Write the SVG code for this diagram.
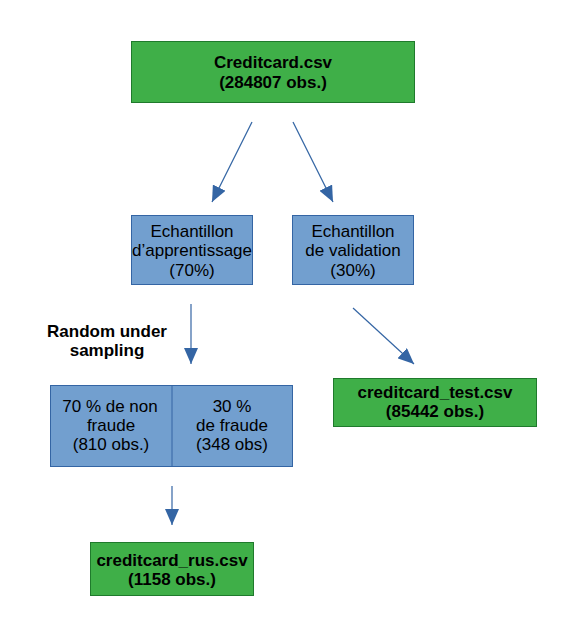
<svg xmlns="http://www.w3.org/2000/svg" width="568" height="623" viewBox="0 0 568 623">
<style>
.g{fill:#3faf48;stroke:#1f7a2c;stroke-width:1}
.b{fill:#729fcf;stroke:#3465a4;stroke-width:1}
.t{font-family:"Liberation Sans",Arial,sans-serif;font-size:17px;fill:#000;text-anchor:middle}
.bd{font-weight:bold}
.c{stroke:#3465a4;stroke-width:1.2;fill:none;marker-end:url(#ah)}
</style>
<defs>
<marker id="ah" markerUnits="userSpaceOnUse" markerWidth="16" markerHeight="14" refX="16" refY="7" orient="auto">
<path d="M0,0 L16,7 L0,14 Z" fill="#3465a4"/>
</marker>
</defs>
<rect width="568" height="623" fill="#fff"/>
<g id="connectors">
<path class="c" d="M252,122 L212,202"/>
<path class="c" d="M293,122 L333,202"/>
<path class="c" d="M191,304 L191,364"/>
<path class="c" d="M353,308 L414,364"/>
<path class="c" d="M172,486 L172,525"/>
</g>
<g id="creditcard">
<rect class="g" x="131.5" y="41.5" width="283" height="61"/>
<text class="t bd" x="273" y="68">Creditcard.csv</text>
<text class="t bd" x="273" y="88">(284807 obs.)</text>
</g>
<g id="apprentissage">
<rect class="b" x="131.5" y="215.5" width="121" height="69"/>
<text class="t" x="192" y="237">Echantillon</text>
<text class="t" x="192" y="256">d’apprentissage</text>
<text class="t" x="192" y="276">(70%)</text>
</g>
<g id="validation">
<rect class="b" x="292.5" y="215.5" width="121" height="69"/>
<text class="t" x="353" y="237">Echantillon</text>
<text class="t" x="353" y="256">de validation</text>
<text class="t" x="353" y="276">(30%)</text>
</g>
<g id="rus-label">
<text class="t bd" x="107" y="337">Random under</text>
<text class="t bd" x="107" y="356">sampling</text>
</g>
<g id="split">
<rect class="b" x="50.5" y="385.5" width="242" height="81"/>
<line x1="172" y1="385.5" x2="172" y2="466.5" stroke="#3465a4" stroke-width="1"/>
<text class="t" x="110" y="412">70 % de non</text>
<text class="t" x="111" y="431">fraude</text>
<text class="t" x="111" y="450">(810 obs.)</text>
<text class="t" x="232" y="412">30 % </text>
<text class="t" x="232" y="431">de fraude</text>
<text class="t" x="232" y="450">(348 obs)</text>
</g>
<g id="test">
<rect class="g" x="333.5" y="378.5" width="203" height="48"/>
<text class="t bd" x="435" y="398">creditcard_test.csv</text>
<text class="t bd" x="435" y="417">(85442 obs.)</text>
</g>
<g id="rus">
<rect class="g" x="90.5" y="542.5" width="163" height="53"/>
<text class="t bd" x="172" y="566">creditcard_rus.csv</text>
<text class="t bd" x="172" y="585">(1158 obs.)</text>
</g>
</svg>
